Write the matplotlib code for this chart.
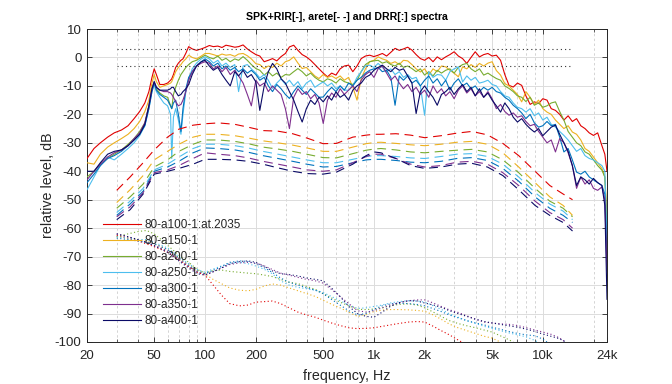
import matplotlib
matplotlib.use('Agg')
import matplotlib.pyplot as plt
from matplotlib.ticker import FixedLocator, NullFormatter

plt.rcParams['font.family'] = ['Liberation Sans', 'DejaVu Sans']
plt.rcParams['axes.unicode_minus'] = False

# ---------------- data ----------------
labels = ['80-a100-1:at.2035', '80-a150-1', '80-a200-1', '80-a250-1',
          '80-a300-1', '80-a350-1', '80-a400-1']

f_spk = [20, 22, 24, 26.5, 29, 32, 35, 38, 41, 44, 46.5, 48.5, 50, 51.5, 54, 57, 60, 62.5, 63.5, 65,
         67, 69.5, 72, 74, 77, 80, 84, 89, 95, 100,
         106, 112, 119, 126, 133, 141, 150, 158, 168, 178, 188, 200,
         211, 224, 237, 251, 266, 282, 299, 316, 335, 355, 376, 398, 422, 447, 473, 501, 531, 562,
         596, 631, 668, 708, 750, 794, 841, 891, 944, 1000,
         1059, 1122, 1189, 1259, 1334, 1413, 1496, 1585, 1679, 1778, 1884, 1995,
         2113, 2239, 2371, 2512, 2661, 2818, 2985, 3162, 3350, 3548, 3758, 3981, 4217, 4467, 4732,
         5012, 5309, 5623, 5957, 6310,
         6683, 7079, 7499, 7943, 8414, 8913, 9441, 10000, 10593, 11220, 11885, 12589, 13335, 14125,
         14962, 15849, 16788, 17783, 18836, 19953, 21135, 22387, 23300, 24000]

spk_a100 = ([-35.5, -32, -30, -28, -26.5, -25.5, -24, -21.5, -19, -16, -12, -7, -4, -6, -9.5, -9.5, -9, -8, -7.5, -6,
             -3.5, -2, -1, -0.5, 1.5, 3.8, 3, 2.5, 3, 3.5]
            + [4.2, 3.8, 4.0, 3.5, 4.3, 4.0, 3.6, 3.8, 4.4, 3.0, 2.0, 1.0]
            + [0.5, -1.5, -1.0, -0.4, -1.2, 0.3, 1.4, 3.7, 4.3, 2.5, 1.0, 0.2, -1.0, -2.5, -4.0, -5.5, -6.8, -5.5,
               -6.2, -4.0, -3.0, -2.7, -5.0, -3.0, -0.4, 0.5, 0.8, 0.3]
            + [0.8, 1.4, 0.5, 1.8, 3.2, 2.5, 3.0, 3.6, 2.6, 1.0, -0.4, -1.0]
            + [0.0, -1.5, 0.2, -0.8, 0.2, 1.0, 2.0, 0.5, -0.4, -2.1, 0.0, 2.0, 0.2, 1.0, 1.4, 0.5, 0.8, -1.0, -6.0, -9.8]
            + [-10.4, -9.0, -9.8, -13.5, -16.5, -15.6, -16.2, -14.5, -15.0, -18.0, -18.6, -20.0, -22.0, -20.5,
               -22.5, -21.5, -24.0, -25.0, -26.5, -27.4, -26.5, -31.0, -34.0, -40.0])

spk_a150 = ([-37, -37.5, -34, -31.5, -30, -28.5, -27, -25, -22.5, -19, -15, -9, -6, -8.5, -10.5, -10, -9.5, -9, -8.5, -7,
             -5, -3.5, -2.5, -1.5, -0.5, 0.8, 0, -0.5, 0.5, 1.4]
            + [1.4, 1.0, 0.5, 1.2, 0.8, 1.0, 0.4, 1.2, 1.4, 0.6, -0.5, -2.2]
            + [-2.5, -3.9, -3.0, -3.5, -2.0, -3.0, -1.5, -1.0, 0.2, -2.0, -3.9, -3.5, -5.0, -6.5, -7.4, -6.0, -7.0, -6.5,
               -7.4, -6.5, -8.0, -7.0, -10.4, -15.0, -7.4, -4.0, -1.5, -1.0]
            + [0.2, -0.5, -1.0, -2.1, -1.5, -2.5, -1.0, -1.2, -2.5, -4.0, -5.1, -4.0]
            + [-6.2, -4.0, -5.0, -3.0, -3.3, -4.5, -5.5, -6.8, -3.3, -4.0, -2.5, -3.5, -2.1, -3.0, -2.0, -1.5, -4.6, -6.2, -9.2, -10.0]
            + [-11.5, -13.0, -15.6, -12.0, -14.0, -16.5, -15.0, -18.0, -19.2, -20.0, -22.0, -23.5, -25.0, -24.0,
               -26.2, -27.0, -29.0, -32.0, -33.0, -35.0, -37.0, -39.0, -42.0, -55.0])

spk_a200 = ([-42, -40, -37.5, -35.5, -34, -32.5, -30.5, -28.5, -26, -23, -17, -11, -9, -11, -12.5, -13.5, -14, -17, -18, -13,
             -10.5, -8, -6, -5, -3.5, -2.5, -1.5, -1, 0, 0.8]
            + [0.0, -0.5, 0.5, -1.0, -0.3, -1.5, -0.5, -1.0, 0.3, -1.0, -2.5, -3.9]
            + [-4.5, -6.2, -5.0, -6.5, -5.5, -7.0, -6.0, -6.2, -5.0, -3.9, -5.0, -6.5, -5.5, -7.0, -8.0, -8.6, -7.5, -8.0,
               -9.0, -7.5, -8.5, -9.0, -9.5, -8.0, -5.0, -2.5, -1.5, -1.2]
            + [-1.0, -2.0, -1.5, -2.5, -3.0, -2.0, -3.5, -3.0, -3.9, -5.0, -4.0, -6.2]
            + [-5.0, -6.5, -4.5, -5.5, -4.5, -4.0, -5.5, -3.5, -2.5, -2.1, -4.0, -5.0, -4.0, -6.2, -5.5, -6.5, -7.4, -8.0, -10.0, -10.9]
            + [-12.0, -13.5, -14.0, -15.5, -14.0, -16.8, -16.0, -17.5, -17.0, -16.0, -15.6, -19.0, -22.0, -26.0,
               -28.0, -30.0, -31.0, -33.2, -34.0, -36.0, -38.0, -39.6, -42.0, -60.0])

spk_a250 = ([-46.5, -42, -38, -35, -36, -34, -32, -30, -27.5, -24, -18, -12, -9.5, -12, -14, -16, -17, -20, -35.5, -21,
             -18, -22, -27, -20, -12, -7.5, -4, -2, -0.5, 0.2]
            + [-0.5, -2.0, -1.0, -3.0, -2.0, -3.5, -2.5, -12.0, -3.0, -2.5, -4.0, -5.5]
            + [-7.2, -6.0, -8.0, -10.9, -9.0, -7.5, -9.5, -8.0, -10.0, -8.5, -11.0, -9.0, -8.0, -10.5, -9.5, -8.6, -10.0, -9.0,
               -11.0, -10.0, -11.5, -11.5, -10.0, -7.0, -5.0, -3.0, -2.7, -3.5]
            + [-2.1, -3.5, -5.0, -4.0, -6.0, -5.0, -7.0, -6.0, -7.5, -7.0, -10.0, -20.3]
            + [-5.0, -7.0, -6.0, -6.2, -8.0, -5.0, -4.0, -3.3, -8.6, -6.5, -8.0, -7.0, -9.0, -8.6, -8.0, -9.5, -10.0, -12.0, -13.5, -14.0]
            + [-16.0, -17.5, -18.0, -19.2, -18.0, -20.5, -19.5, -22.0, -21.0, -23.5, -24.5, -26.0, -27.4, -29.0,
               -31.0, -33.0, -32.0, -34.5, -35.5, -36.0, -37.0, -38.0, -40.0, -65.0])

spk_a300 = ([-44, -41, -38, -35.5, -34.5, -33, -31, -29, -27, -24, -18, -12, -9, -11.5, -13, -14, -15, -17, -18, -16,
             -15, -20, -26, -18, -11, -7, -5, -3, -1.5, -0.5]
            + [-1.5, -3.0, -2.0, -4.0, -3.0, -4.5, -3.5, -5.0, -4.0, -5.5, -4.5, -6.0]
            + [-8.0, -7.0, -10.0, -12.0, -9.5, -11.0, -13.0, -14.4, -12.0, -10.0, -11.5, -13.0, -11.0, -12.5, -14.0, -13.9,
               -12.0, -10.5, -12.0, -10.0, -11.5, -9.0, -10.0, -8.0, -7.0, -5.5, -4.5, -4.0]
            + [-3.5, -5.0, -4.5, -7.0, -16.8, -6.5, -8.0, -6.5, -9.0, -8.0, -10.0, -8.0]
            + [-6.5, -9.0, -7.5, -10.0, -8.0, -11.5, -9.0, -7.5, -10.0, -9.0, -11.0, -10.0, -12.0, -10.5, -11.5, -10.5, -12.0, -12.5, -14.0, -15.0]
            + [-16.8, -18.0, -19.5, -21.5, -20.0, -23.0, -24.5, -24.0, -22.5, -24.0, -23.5, -28.0, -33.2, -32.0,
               -36.0, -40.3, -41.0, -40.0, -42.0, -43.0, -44.0, -45.0, -48.0, -70.0])

spk_a350 = ([-43, -40, -37.5, -35, -33.5, -32.5, -31, -28.5, -26.5, -23, -17, -11, -8.5, -10.5, -11.5, -12, -12, -12.5, -13, -14,
             -15.5, -17, -16.5, -15, -12, -8, -5, -3, -2, -1.5]
            + [-2.0, -4.0, -3.0, -5.0, -3.5, -6.0, -4.5, -6.5, -9.0, -13.0, -17.0, -8.0]
            + [-10.0, -9.0, -12.0, -10.0, -11.5, -13.0, -18.0, -25.0, -14.0, -11.0, -13.0, -12.0, -14.5, -13.0, -16.0, -23.2,
               -15.0, -12.5, -14.0, -11.0, -13.0, -11.5, -10.0, -12.0, -8.0, -6.0, -5.0, -7.0]
            + [-4.0, -3.0, -5.5, -8.0, -6.5, -9.0, -11.0, -9.5, -12.0, -10.5, -13.0, -11.5]
            + [-14.0, -10.0, -12.5, -11.0, -13.5, -12.0, -14.5, -11.5, -10.0, -12.5, -11.0, -13.5, -12.0, -14.0, -12.0, -14.5, -18.0, -16.5, -19.0, -20.3]
            + [-19.5, -21.0, -20.5, -22.5, -24.0, -23.5, -26.0, -28.0, -30.0, -29.0, -33.2, -28.5, -30.0, -33.5,
               -38.0, -46.0, -42.0, -44.5, -43.0, -46.0, -46.7, -45.5, -50.0, -75.0])

spk_a400 = ([-40, -40, -37, -34, -33, -32.5, -31, -29, -27, -23.5, -17, -11, -8.5, -10.5, -11.5, -11.5, -11.5, -11, -10.5, -10.5,
             -12, -13.5, -13, -12, -11, -9.5, -6, -3, -1.5, -1]
            + [-3.0, -4.5, -3.5, -6.0, -8.0, -10.0, -5.0, -6.5, -4.5, -7.0, -6.0, -8.6]
            + [-18.6, -10.0, -5.0, -2.1, -4.0, -7.5, -9.0, -12.0, -15.0, -19.0, -22.7, -18.0, -15.0, -16.5, -14.0, -15.6,
               -13.5, -15.0, -12.1, -14.0, -13.0, -15.0, -11.5, -10.0, -9.0, -7.0, -6.2, -4.5]
            + [-3.5, -2.7, -4.0, -5.0, -3.5, -4.5, -4.0, -6.5, -9.0, -19.7, -12.0, -10.0]
            + [-12.1, -14.0, -16.8, -13.0, -12.0, -10.5, -13.0, -11.0, -9.5, -12.0, -10.5, -13.5, -11.0, -14.0, -12.5, -15.0, -17.0, -19.2, -16.0, -18.0]
            + [-21.0, -22.7, -21.5, -23.5, -25.0, -26.2, -25.0, -27.5, -26.0, -24.5, -23.8, -27.0, -30.0, -33.0,
               -38.0, -45.0, -42.0, -43.0, -44.5, -42.5, -44.0, -45.0, -52.0, -85.0])

f_arete = [30, 36, 43, 50, 60, 70, 85, 100, 120, 150, 180, 220, 270, 330, 400, 500, 600, 750, 900,
           1000, 1100, 1350, 1650, 2000, 2500, 3100, 3800, 4700, 5800, 7200, 9000, 11000, 13200, 15000]
arete_a100 = [-46.7, -42, -37, -32.5, -28, -25.2, -23.8, -23.3, -23, -23.5, -24.5, -25.7, -25.9, -26.8, -28.3, -30.3,
              -30.2, -28, -27.3, -27, -27, -26.8, -27.3, -28.2, -27.5, -26.6, -26, -27.2, -30.2, -34.5, -40, -45, -48, -50]
arete_a150 = [-51, -46.5, -41.5, -36, -33, -30.5, -28, -27, -27, -27.5, -28.3, -29.3, -30, -30.8, -31.8, -33, -33,
              -31.5, -30.3, -29.9, -29.8, -30.2, -30.7, -31, -30.5, -29.8, -29.5, -30.5, -33.5, -38.5, -44, -49, -52, -55.5]
arete_a200 = [-53, -49, -44.5, -38.5, -36, -33, -30.5, -29, -29, -29.5, -30.3, -31.5, -32.2, -33, -34, -35.2, -35.3,
              -33.8, -32.6, -32.2, -32, -32.5, -33.2, -33.5, -33, -32.6, -32.3, -33.2, -36, -40.5, -46, -50.5, -53, -56]
arete_a250 = [-54.5, -50.5, -46, -39.5, -37.5, -35, -32, -30.5, -30.5, -31, -31.8, -33, -34, -35, -36, -37, -37,
              -35.8, -34.8, -34.5, -34.5, -34.8, -35.3, -35.5, -34.8, -34, -33.8, -34.8, -37.5, -42, -47.5, -51.5, -54, -57]
arete_a300 = [-55.5, -51.5, -47, -40, -38.5, -36.5, -33.5, -31.8, -32, -32.5, -33.3, -34.5, -35.5, -36.5, -37.5, -38.5,
              -38.3, -37, -36, -35.8, -35.8, -36.2, -36.8, -37, -36.5, -35.5, -35.2, -36.2, -39, -43.5, -49, -53, -55.5, -58]
arete_a350 = [-56, -52.5, -47.5, -40.5, -39.5, -38, -35.5, -33.5, -34, -34.5, -35.3, -36.5, -37.5, -38.5, -39.5, -40,
              -39.5, -37, -34.8, -34, -34, -35.5, -37.5, -38.5, -38, -36.8, -36.5, -37.5, -40.5, -45, -50.5, -54.5, -57, -60]
arete_a400 = [-57, -53.5, -48, -41, -40, -39, -37.5, -35.8, -35.8, -36, -36.5, -37.5, -38.8, -40, -40.8, -41, -40.3,
              -37.5, -34.5, -33.2, -33.5, -35.5, -38, -39, -38.5, -37.5, -37.2, -38.5, -41.5, -46.5, -52, -55.5, -58, -61]

f_drr = [30, 35, 40, 45, 50, 55, 60, 70, 80, 90, 100, 110, 125, 140, 160, 180, 200, 225, 250, 280, 315, 355,
         400, 450, 500, 560, 630, 710, 800, 900, 1000, 1120, 1250, 1400, 1600, 1800, 2000, 2250, 2500, 2800,
         3150, 3550, 4000, 4500, 5000, 5600, 6300, 7100, 8000, 9000, 10000, 11200, 12500, 14000, 15000]
drr_a100 = [-62.5, -63.5, -64.5, -65.5, -66.5, -67.5, -68.5, -71, -73.5, -75.5, -76.5, -79.5, -83.5, -86.5, -87.3,
            -87, -86, -85.8, -85.6, -86.5, -88, -89.5, -90.5, -91.3, -92.3, -93.3, -94.2, -95, -95.3, -95.2, -95,
            -94.5, -94, -93.5, -93, -92.8, -93, -94.5, -96, -97.5, -99.3, -101, -103]
drr_a150 = [-63, -63.5, -64, -64.5, -65.5, -66.5, -67.5, -70.5, -73, -75, -76, -77.8, -79.5, -81, -81.8, -82, -81.5,
            -80.3, -79.6, -80, -81, -82, -83, -84, -85.3, -86.7, -88, -89.5, -91, -90.3, -89.3, -88.8, -88.6, -88.6,
            -88.7, -88.9, -89.2, -90.5, -92, -93.7, -95, -96, -97, -98, -98.6, -100, -102]
drr_a200 = [-63, -62, -61.2, -60.8, -62, -64, -66, -69.5, -72, -74.5, -75.8, -75, -74.7, -75.2, -75.5, -75.8, -76,
            -76.5, -77, -78, -79, -79.5, -80.5, -81.5, -83, -84.5, -86, -87.3, -88.5, -88.6, -88.4, -88, -87.3, -86.8,
            -86.6, -87, -88, -89.5, -91, -92.5, -93.5, -94.3, -95, -95.8, -96.5, -97.8, -99.2, -101]
drr_a250 = [-63, -63.5, -64, -64, -65, -66, -67, -70, -72.5, -74.5, -75.5, -74.5, -73.3, -72.3, -72, -72.5, -73.3,
            -74.5, -76, -78.5, -80, -80.8, -81.3, -81.8, -82.6, -84, -85.5, -87, -88.2, -88, -87.5, -87, -86.3, -85.8,
            -85.5, -85.6, -86, -87.3, -88.5, -90.1, -91.3, -92.5, -93.5, -94.5, -95.2, -96, -96.8, -97.5, -98.2, -99.5, -101]
drr_a300 = [-63.5, -64, -64.5, -65, -65.5, -66.5, -67.5, -70.5, -73, -75, -76, -75, -73.5, -72, -71.5, -71.7, -72.5,
            -74, -75.5, -77.5, -79, -80, -81, -81.8, -83, -85, -87, -89, -90.5, -90, -88.5, -87.3, -86.6, -86.4, -86.5,
            -86.8, -87.3, -88.3, -89.3, -90.5, -91.5, -92.5, -93.3, -94, -94.8, -95.5, -96.3, -97, -97.5, -97.8, -99, -101]
drr_a350 = [-62, -63, -64, -65, -66, -67, -68, -71, -73.5, -75.3, -76.3, -75.5, -74, -72.8, -72.2, -72, -72.3, -73.3,
            -74.5, -75.8, -76.5, -77.3, -78, -78.5, -79.3, -81.5, -84, -86.5, -89, -89.5, -89, -88, -87, -86.2, -85.5,
            -85.2, -85.2, -86.3, -87.5, -88.7, -89.6, -90.8, -92, -93, -93.3, -93.6, -93.8, -94.2, -95, -95.8, -96.5,
            -97.3, -98.5, -100.5]
drr_a400 = [-62, -63, -64, -65, -66.2, -67.3, -68.5, -71.5, -74, -76, -76.5, -75.5, -74, -72.5, -71.7, -71.5, -72,
            -73.5, -75, -76, -76.3, -76.8, -77.5, -78, -78.5, -81, -84, -87.5, -90, -91, -91.3, -89.5, -87.5, -86.2,
            -85.5, -85.6, -86.3, -87, -87.8, -89, -90, -91, -92, -92.8, -93.3, -93.8, -94.3, -94.8, -95.5, -96.3,
            -97.2, -98, -98.8, -100.3]

tol_f = [30, 15000]
tol_hi = [3, 3]
tol_lo = [-3, -3]

xtick_vals = [20, 50, 100, 200, 500, 1000, 2000, 5000, 10000, 24000]
xtick_labels = ['20', '50', '100', '200', '500', '1k', '2k', '5k', '10k', '24k']
xminor_vals = [30, 40, 60, 70, 80, 90, 300, 400, 600, 700, 800, 900,
               3000, 4000, 6000, 7000, 8000, 9000, 20000]
ytick_vals = [10, 0, -10, -20, -30, -40, -50, -60, -70, -80, -90, -100]

spk = [spk_a100, spk_a150, spk_a200, spk_a250, spk_a300, spk_a350, spk_a400]
arete = [arete_a100, arete_a150, arete_a200, arete_a250, arete_a300, arete_a350, arete_a400]
drr = [drr_a100, drr_a150, drr_a200, drr_a250, drr_a300, drr_a350, drr_a400]
for s in spk:
    assert len(s) == len(f_spk), len(s)
for s in arete:
    assert len(s) == len(f_arete)

# ---------------- style ----------------
colors = ['#e00000', '#EDB120', '#77AC30', '#4DBEEE', '#0072BD', '#7E2F8E', '#0a0a66']
txt = '#262626'

fig = plt.figure(figsize=(6.72, 3.84), dpi=100)
ax = fig.add_axes([87 / 672, 42 / 384, 520 / 672, 313 / 384])
ax.set_xscale('log')

handles = []
for c, lab, y in zip(colors, labels, spk):
    h, = ax.plot(f_spk, y, color=c, lw=0.8, label=lab, zorder=3)
    handles.append(h)
for c, y in zip(colors, arete):
    ax.plot(f_arete, y, color=c, lw=0.8, dashes=(8, 5), zorder=3)
for c, y in zip(colors, drr):
    ax.plot(f_drr[:len(y)], y, color=c, lw=0.8, dashes=(1.0, 2.2), zorder=3)
ax.plot(tol_f, tol_hi, color='#333333', lw=0.8, dashes=(1.0, 2.8), zorder=3)
ax.plot(tol_f, tol_lo, color='#333333', lw=0.8, dashes=(1.0, 2.8), zorder=3)

ax.set_xlim(20, 24000)
ax.set_ylim(-100, 10)
ax.xaxis.set_major_locator(FixedLocator(xtick_vals))
ax.set_xticklabels(xtick_labels)
ax.xaxis.set_minor_locator(FixedLocator(xminor_vals))
ax.xaxis.set_minor_formatter(NullFormatter())
ax.set_yticks(ytick_vals)

ax.grid(which='major', color='#dcdcdc', lw=0.7, ls='-', zorder=0)
ax.grid(which='minor', axis='x', color='#d4d4d4', lw=0.7, ls=(0, (2.5, 2.5)), zorder=0)
ax.set_axisbelow(True)

ax.tick_params(which='both', direction='in', top=True, right=True, colors=txt,
               labelsize=9.5)
ax.tick_params(axis='x', pad=6)
ax.tick_params(axis='y', pad=4)
ax.tick_params(which='major', length=3.5, width=0.6)
ax.tick_params(which='minor', length=2, width=0.5)
for sp in ax.spines.values():
    sp.set_color(txt)
    sp.set_linewidth(0.7)

ax.set_title('SPK+RIR[-], arete[- -] and DRR[:] spectra', fontsize=7.6,
             fontweight='bold', color='black', pad=6.5)
ax.set_xlabel('frequency, Hz', fontsize=10.3, color=txt)
ax.set_ylabel('relative level, dB', fontsize=10.3, color=txt)
ax.xaxis.set_label_coords(0.5, -0.086)
ax.yaxis.set_label_coords(-0.062, 0.5)

leg = ax.legend(handles=handles, loc='upper left', bbox_to_anchor=(0.031, 0.394),
                frameon=False, fontsize=8.5, handlelength=3.2, handletextpad=0.3,
                labelspacing=0.35, borderpad=0, borderaxespad=0)
for t in leg.get_texts():
    t.set_color(txt)

fig.savefig('out.png', dpi=100)
